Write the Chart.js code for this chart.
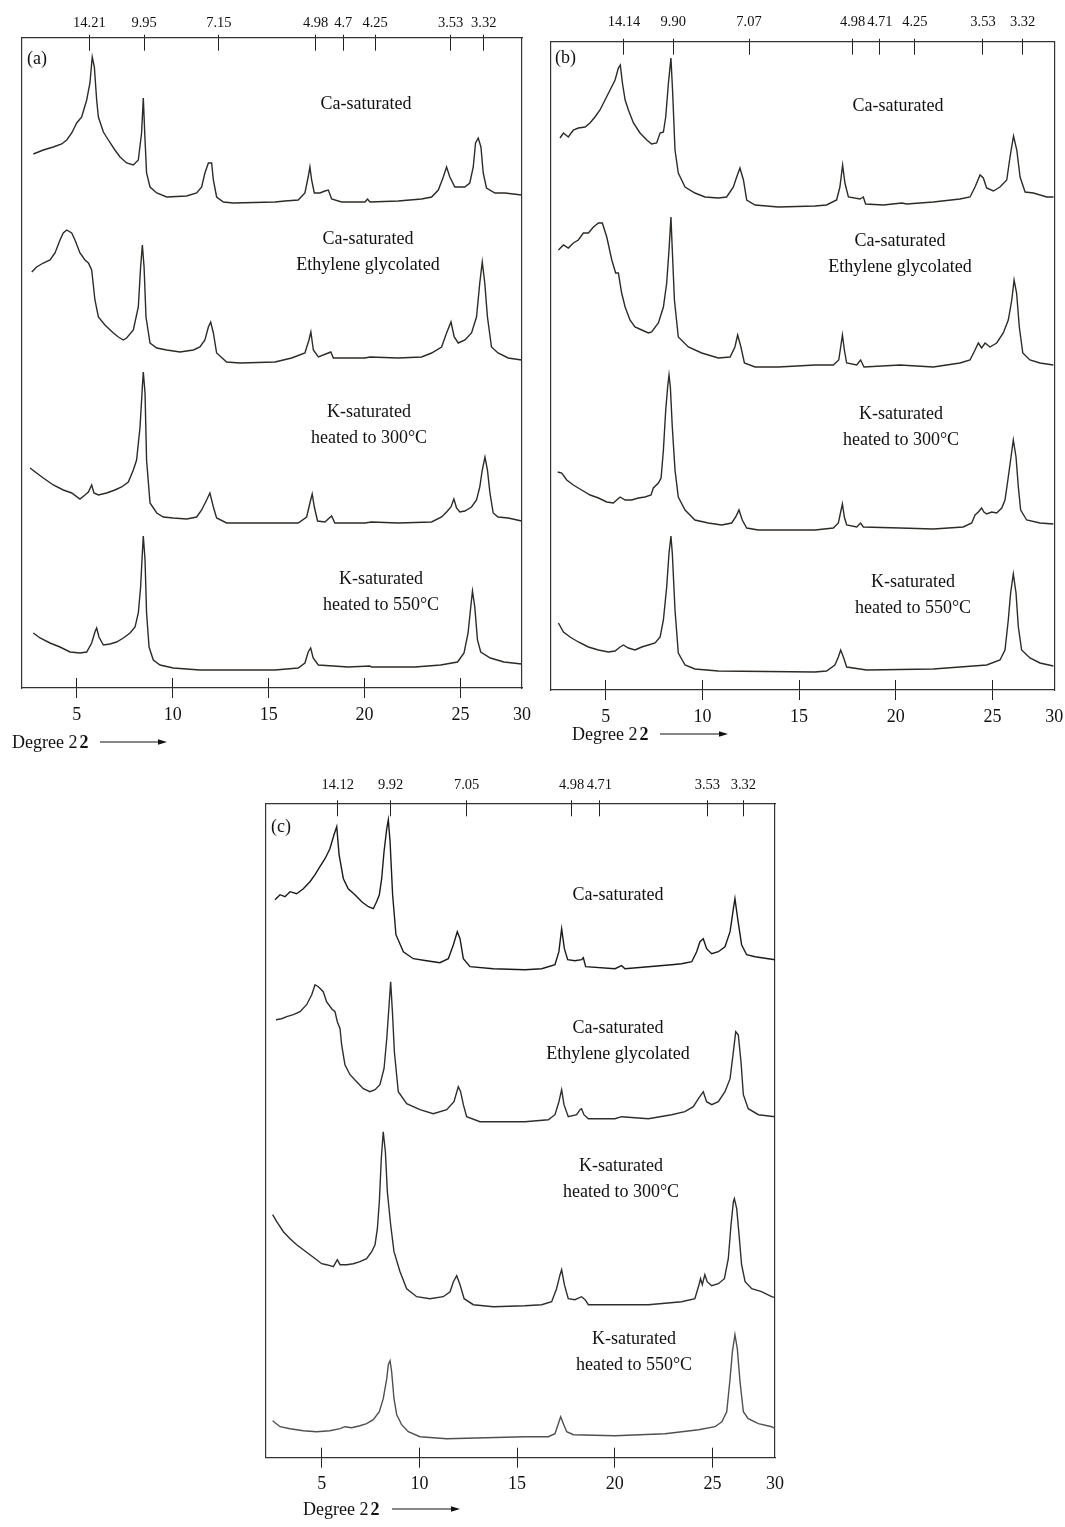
<!DOCTYPE html>
<html>
<head>
<meta charset="utf-8">
<script src="https://cdn.jsdelivr.net/npm/chart.js@4.4.1/dist/chart.umd.min.js"></script>
<style>
  body { margin: 0; background: #fff; }
  #page { position: relative; width: 1065px; height: 1527px; overflow: hidden; font-family: "Liberation Serif", "Times New Roman", serif; color: #111; }
  canvas { position: absolute; }
  .lbl { position: absolute; transform: translateX(-50%); text-align: center; white-space: nowrap; font-size: 18px; line-height: 26px; }
  .tag { position: absolute; font-size: 18px; line-height: 22px; }
  .deg { position: absolute; font-size: 18px; line-height: 22px; white-space: nowrap; }
  .deg b { margin-left: 2px; }
  svg { position: absolute; overflow: visible; }
</style>
</head>
<body>
<div id="page"></div>
<script>
// 2-theta axis (degrees); the printed "30" sits on the right-hand frame
const xMin = 2.15, xMax = 28.2;
const xTickPos = [5, 10, 15, 20, 25, 28.2];
const xTickLabels = ['5', '10', '15', '20', '25', '30'];

// d-spacings (angstrom) marked along the top of each panel
const dLabelsA = ['14.21', '9.95', '7.15', '4.98', '4.7', '4.25', '3.53', '3.32'];
const dPosA = [5.66, 8.51, 12.41, 17.45, 18.89, 20.55, 24.48, 26.21];
const dLabelsB = ['14.14', '9.90', '7.07', '4.98', '4.71', '4.25', '3.53', '3.32'];
const dPosB = [5.94, 8.49, 12.41, 17.77, 19.18, 20.99, 24.51, 26.56];
const dLabelsC = ['14.12', '9.92', '7.05', '4.98', '4.71', '3.53', '3.32'];
const dPosC = [5.82, 8.53, 12.42, 17.79, 19.21, 24.74, 26.58];

const traceNames = [
  ['Ca-saturated'],
  ['Ca-saturated', 'Ethylene glycolated'],
  ['K-saturated', 'heated to 300°C'],
  ['K-saturated', 'heated to 550°C']
];

// traces as [2theta, stacked intensity]
const aCa = [[2.74,534],[3.26,538],[3.78,541],[4.22,544],[4.48,548],[4.74,555],[5.00,565],[5.26,571],[5.52,588],[5.69,605],[5.81,631],[5.92,621],[6.04,588],[6.13,571],[6.39,556],[6.65,548],[6.99,538],[7.26,531],[7.60,525],[7.95,523],[8.21,528],[8.38,555],[8.47,590],[8.56,548],[8.64,515],[8.82,501],[9.17,495],[9.69,491],[10.73,492],[11.25,495],[11.51,501],[11.68,515],[11.86,525],[12.03,525],[12.12,508],[12.29,491],[12.64,486],[13.16,485],[15.33,486],[15.85,487],[16.54,488],[16.89,495],[17.06,511],[17.15,521],[17.24,508],[17.38,495],[17.67,495],[17.93,497],[18.11,498],[18.28,489],[18.80,486],[20.02,486],[20.15,489],[20.28,486],[21.75,487],[22.97,489],[23.49,491],[23.84,498],[24.10,511],[24.27,521],[24.44,511],[24.70,501],[25.22,501],[25.48,505],[25.66,521],[25.78,545],[25.92,550],[26.06,541],[26.18,515],[26.35,500],[26.79,495],[27.31,495],[28.18,493]];
const aCaEG = [[2.66,416],[2.91,421],[3.26,425],[3.61,428],[3.87,435],[4.13,448],[4.30,455],[4.48,458],[4.74,455],[4.91,448],[5.17,435],[5.43,428],[5.61,425],[5.78,418],[5.95,388],[6.13,371],[6.47,363],[6.91,355],[7.17,351],[7.43,348],[7.60,350],[7.95,358],[8.21,381],[8.33,421],[8.42,443],[8.51,421],[8.61,371],[8.82,345],[9.17,340],[9.69,338],[10.38,336],[11.08,338],[11.42,341],[11.68,348],[11.86,361],[11.98,366],[12.12,355],[12.29,335],[12.81,326],[13.51,325],[15.33,326],[16.20,330],[16.89,335],[17.10,348],[17.20,356],[17.33,338],[17.59,331],[18.11,335],[18.24,336],[18.37,330],[20.02,330],[20.28,331],[21.75,330],[22.97,331],[23.49,335],[24.01,341],[24.27,355],[24.50,366],[24.67,351],[24.88,345],[25.23,348],[25.57,355],[25.83,371],[26.00,405],[26.13,426],[26.26,405],[26.40,371],[26.61,341],[26.95,335],[27.48,330],[28.18,328]];
const aK300 = [[2.57,220],[2.91,215],[3.26,210],[3.78,203],[4.30,198],[4.74,195],[5.17,189],[5.43,193],[5.61,196],[5.78,203],[5.90,195],[6.13,193],[6.56,195],[6.99,198],[7.34,201],[7.69,206],[7.95,218],[8.12,228],[8.30,261],[8.42,301],[8.47,316],[8.56,295],[8.64,228],[8.82,185],[9.17,175],[9.51,171],[10.03,170],[10.73,169],[11.25,171],[11.51,178],[11.77,188],[11.94,195],[12.12,181],[12.29,170],[12.81,165],[13.51,165],[15.33,165],[16.54,165],[16.98,171],[17.15,185],[17.27,194],[17.38,181],[17.55,167],[17.93,166],[18.28,172],[18.45,165],[20.02,165],[20.36,166],[21.75,165],[23.49,166],[24.01,171],[24.27,176],[24.50,181],[24.65,189],[24.79,180],[24.96,176],[25.22,177],[25.57,181],[25.83,188],[26.00,201],[26.13,218],[26.27,231],[26.40,218],[26.53,195],[26.70,175],[26.95,171],[27.48,170],[28.18,167]];
const aK550 = [[2.74,55],[3.09,50],[3.61,45],[4.13,41],[4.65,36],[5.17,35],[5.52,36],[5.78,45],[5.95,56],[6.04,60],[6.16,51],[6.39,43],[6.73,44],[7.08,46],[7.43,50],[7.78,55],[8.04,61],[8.21,75],[8.33,101],[8.42,135],[8.47,152],[8.56,128],[8.64,75],[8.77,41],[8.99,28],[9.34,23],[10.03,20],[11.42,18],[15.33,18],[16.54,20],[16.89,25],[17.06,36],[17.19,40],[17.32,30],[17.59,23],[19.15,21],[20.28,22],[20.36,21],[22.62,21],[23.96,23],[24.84,26],[25.18,35],[25.39,55],[25.53,81],[25.62,97],[25.74,81],[25.88,48],[26.05,36],[26.55,30],[27.26,26],[28.18,24]];

const bCa = [[2.63,552],[2.81,557],[3.06,553],[3.32,560],[3.58,562],[3.93,563],[4.18,567],[4.44,573],[4.70,580],[4.96,590],[5.22,600],[5.48,610],[5.65,622],[5.75,625],[5.86,607],[6.00,590],[6.17,580],[6.43,567],[6.77,557],[7.12,550],[7.37,546],[7.63,547],[7.81,557],[7.98,558],[8.10,573],[8.24,607],[8.37,632],[8.46,597],[8.58,540],[8.75,517],[9.10,503],[9.61,497],[10.13,493],[10.82,492],[11.25,493],[11.60,503],[11.77,513],[11.94,522],[12.12,510],[12.29,490],[12.72,485],[13.93,483],[15.82,484],[16.42,485],[16.94,490],[17.11,503],[17.25,525],[17.37,507],[17.55,493],[18.15,491],[18.32,493],[18.44,486],[19.36,485],[20.31,487],[20.57,486],[21.94,488],[23.32,491],[23.84,493],[24.10,503],[24.36,515],[24.53,512],[24.70,502],[25.05,499],[25.39,503],[25.74,510],[25.91,533],[26.09,554],[26.26,540],[26.43,513],[26.69,498],[27.12,497],[27.81,493],[28.16,493]];
const bCaEG = [[2.55,440],[2.81,445],[3.06,442],[3.32,447],[3.58,450],[3.84,457],[4.10,457],[4.36,463],[4.62,467],[4.82,467],[5.05,453],[5.31,430],[5.51,417],[5.65,417],[5.82,397],[6.00,383],[6.25,370],[6.51,363],[6.86,360],[7.20,357],[7.37,358],[7.72,367],[7.98,383],[8.15,407],[8.27,440],[8.37,473],[8.44,440],[8.55,390],[8.75,353],[9.27,343],[9.96,337],[10.82,332],[11.43,333],[11.68,343],[11.82,355],[11.99,343],[12.17,327],[12.72,323],[13.93,323],[15.82,325],[16.77,325],[17.05,330],[17.15,343],[17.24,355],[17.34,340],[17.46,327],[17.98,325],[18.18,330],[18.36,323],[20.22,325],[21.94,323],[23.32,327],[23.84,330],[24.10,340],[24.27,347],[24.44,342],[24.62,347],[24.87,343],[25.22,347],[25.56,357],[25.82,370],[26.00,390],[26.12,410],[26.25,397],[26.39,363],[26.57,337],[26.94,330],[27.46,327],[28.15,325]];
const bK300 = [[2.51,218],[2.72,217],[2.98,210],[3.32,205],[3.75,200],[4.19,195],[4.62,192],[5.05,188],[5.39,187],[5.74,193],[6.00,190],[6.34,190],[6.68,192],[7.03,193],[7.34,195],[7.46,202],[7.72,207],[7.86,212],[7.98,240],[8.10,280],[8.20,303],[8.27,315],[8.34,303],[8.44,263],[8.58,220],[8.75,193],[9.10,180],[9.61,170],[10.30,167],[10.99,165],[11.51,167],[11.72,173],[11.89,180],[12.06,170],[12.29,162],[12.89,160],[15.82,160],[16.77,162],[17.03,167],[17.15,178],[17.24,186],[17.34,173],[17.46,165],[17.98,163],[18.18,167],[18.32,163],[20.22,162],[21.94,161],[23.49,163],[23.93,167],[24.10,175],[24.27,178],[24.44,182],[24.56,178],[24.70,176],[24.96,178],[25.22,177],[25.48,182],[25.65,190],[25.82,213],[25.94,230],[26.08,250],[26.22,233],[26.34,203],[26.46,180],[26.77,170],[27.46,167],[28.15,166]];
const bK550 = [[2.55,67],[2.81,58],[3.15,53],[3.58,48],[4.10,43],[4.62,40],[5.13,38],[5.48,39],[5.74,43],[5.91,45],[6.17,42],[6.51,40],[6.86,43],[7.20,45],[7.55,47],[7.81,53],[7.98,70],[8.15,103],[8.27,137],[8.37,154],[8.44,137],[8.58,80],[8.75,37],[9.10,25],[9.61,21],[10.82,19],[15.82,18],[16.42,19],[16.85,25],[17.03,33],[17.15,40],[17.29,33],[17.46,23],[18.49,20],[21.94,21],[24.70,25],[25.39,30],[25.65,40],[25.82,70],[25.94,97],[26.08,116],[26.22,97],[26.34,63],[26.51,40],[26.94,32],[27.46,27],[28.15,24]];

const cCa = [[2.61,558],[2.87,563],[3.12,561],[3.38,566],[3.72,564],[4.06,569],[4.40,576],[4.66,583],[4.91,591],[5.17,599],[5.42,609],[5.63,623],[5.77,631],[5.89,603],[6.11,579],[6.36,569],[6.70,563],[7.05,556],[7.39,551],[7.64,549],[7.81,556],[7.95,563],[8.07,579],[8.19,606],[8.33,629],[8.41,638],[8.50,616],[8.63,563],[8.80,523],[9.18,506],[9.69,499],[10.37,497],[11.05,495],[11.48,499],[11.74,513],[11.94,526],[12.08,519],[12.25,499],[12.59,491],[13.78,489],[15.40,488],[16.26,489],[16.94,493],[17.14,506],[17.28,529],[17.42,509],[17.59,498],[17.96,497],[18.30,498],[18.39,500],[18.51,491],[20.01,489],[20.35,492],[20.52,489],[21.72,491],[22.91,493],[23.42,494],[23.94,496],[24.19,506],[24.36,516],[24.53,519],[24.70,509],[24.96,504],[25.30,506],[25.64,511],[25.90,526],[26.07,549],[26.15,559],[26.29,539],[26.49,513],[26.75,503],[27.18,501],[27.86,499],[28.20,498]];
const cCaEG = [[2.66,438],[2.95,439],[3.21,441],[3.55,443],[3.89,446],[4.23,453],[4.49,463],[4.66,473],[4.83,471],[5.08,466],[5.25,456],[5.51,449],[5.68,446],[5.80,436],[5.94,429],[6.02,413],[6.19,393],[6.45,383],[6.79,376],[7.13,369],[7.47,366],[7.73,368],[7.98,373],[8.19,389],[8.33,419],[8.45,453],[8.53,476],[8.62,446],[8.72,406],[8.92,366],[9.35,354],[10.03,348],[10.71,344],[11.40,348],[11.77,356],[11.99,371],[12.11,366],[12.25,353],[12.42,341],[13.10,336],[15.40,336],[16.60,338],[16.94,343],[17.14,356],[17.28,368],[17.40,353],[17.62,341],[18.05,343],[18.22,348],[18.30,349],[18.42,343],[18.65,339],[20.01,339],[20.35,341],[21.72,339],[22.91,343],[23.59,346],[24.02,351],[24.28,359],[24.53,366],[24.70,356],[24.96,353],[25.30,356],[25.64,366],[25.90,379],[26.07,406],[26.19,426],[26.32,423],[26.46,396],[26.58,363],[26.83,349],[27.35,343],[28.20,341]];
const cK300 = [[2.49,243],[2.70,236],[3.04,226],[3.38,219],[3.72,213],[4.06,208],[4.40,203],[4.74,198],[5.00,194],[5.25,193],[5.60,191],[5.80,198],[5.94,193],[6.28,193],[6.62,194],[6.96,196],[7.30,199],[7.56,206],[7.73,213],[7.85,229],[7.95,256],[8.05,299],[8.15,326],[8.26,306],[8.36,266],[8.53,233],[8.70,206],[9.01,186],[9.35,169],[9.86,161],[10.54,159],[11.22,161],[11.57,166],[11.74,176],[11.91,182],[12.08,173],[12.29,159],[12.76,153],[13.78,151],[15.40,152],[16.26,153],[16.77,156],[17.02,169],[17.20,183],[17.28,188],[17.42,173],[17.62,159],[17.96,158],[18.30,161],[18.48,158],[18.65,153],[20.01,153],[21.72,153],[23.42,156],[24.10,159],[24.31,173],[24.39,179],[24.48,173],[24.61,183],[24.73,176],[24.96,172],[25.30,174],[25.61,179],[25.81,199],[25.95,233],[26.07,256],[26.12,259],[26.24,249],[26.36,223],[26.49,193],[26.67,176],[27.01,169],[27.51,166],[28.03,161],[28.20,160]];
const cK550 = [[2.49,37],[2.87,31],[3.38,29],[4.06,27],[4.74,26],[5.42,27],[5.94,29],[6.19,31],[6.53,30],[6.96,32],[7.30,34],[7.64,38],[7.95,46],[8.15,59],[8.33,79],[8.41,93],[8.50,97],[8.58,86],[8.70,59],[8.84,43],[8.97,38],[9.09,33],[9.43,26],[10.03,21],[11.40,19],[15.40,21],[16.60,21],[16.94,24],[17.11,34],[17.23,41],[17.37,34],[17.54,26],[17.88,23],[20.01,22],[22.57,24],[24.29,28],[25.13,31],[25.48,36],[25.73,46],[25.90,79],[26.02,106],[26.15,123],[26.27,109],[26.41,76],[26.58,46],[26.83,39],[27.35,34],[28.03,31],[28.20,29]];

const panels = [
  { tag: '(a)', traces: [aCa, aCaEG, aK300, aK550], dPos: dPosA, dLabels: dLabelsA,
    colors: ['#2e2a26', '#2e2a26', '#2e2a26', '#2e2a26'],
    box: { l: 22, t: 37.7, r: 522, b: 688 }, dPad: 2.4,
    labelAt: [[366, 103], [368, 238], [369, 411], [381, 578]],
    tagAt: [27, 47], degAt: [12, 742], arrow: [100, 167] },
  { tag: '(b)', traces: [bCa, bCaEG, bK300, bK550], dPos: dPosB, dLabels: dLabelsB,
    colors: ['#2e2a26', '#2e2a26', '#2e2a26', '#2e2a26'],
    box: { l: 550.7, t: 41.7, r: 1054.3, b: 690 }, dPad: 8,
    labelAt: [[898, 105], [900, 240], [901, 413], [913, 581]],
    tagAt: [555, 46], degAt: [572, 734], arrow: [660, 728] },
  { tag: '(c)', traces: [cCa, cCaEG, cK300, cK550], dPos: dPosC, dLabels: dLabelsC,
    colors: ['#1a1a1a', '#2e2e2e', '#2e2e2e', '#505050'],
    box: { l: 266, t: 803.3, r: 775, b: 1457.7 }, dPad: 6.3,
    labelAt: [[618, 894], [618, 1027], [621, 1165], [634, 1338]],
    tagAt: [271, 815], degAt: [303, 1509], arrow: [392, 460] }
];

const page = document.getElementById('page');

const setTicks = pos => s => { s.ticks = pos.map(v => ({ value: v })); };
const fixH = h => s => { s.height = h; };
const fixW = s => { s.width = 0; };
const TOP_H = 32, BOT_H = 45;

// no tick mark is printed where the "30" label sits on the frame
const tickColor = c => (c.tick && c.tick.value === 28.2) ? 'rgba(0,0,0,0)' : '#222';

function xAxis(position, weight, pos, labels, tickLen, pad, fontSize, borderOn, h) {
  return {
    type: 'linear', position: position, weight: weight, min: xMin, max: xMax,
    afterBuildTicks: setTicks(pos),
    afterFit: fixH(h),
    ticks: {
      display: !!labels, autoSkip: false, maxRotation: 0, minRotation: 0, padding: pad,
      color: '#111', font: { size: fontSize },
      callback: (v, i) => labels ? labels[i] : ''
    },
    grid: { drawOnChartArea: false, drawTicks: true, tickLength: tickLen, color: tickColor, lineWidth: 1 },
    border: { display: borderOn, color: '#333', width: 1.2 }
  };
}

function yAxis(position, max) {
  return {
    type: 'linear', position: position, min: 0, max: max, afterFit: fixW,
    ticks: { display: false },
    grid: { drawOnChartArea: false, drawTicks: false },
    border: { display: true, color: '#333', width: 1.2 }
  };
}

panels.forEach(p => {
  const cl = Math.floor(p.box.l) - 20, ct = Math.floor(p.box.t) - 42;
  const cw = Math.ceil(p.box.r) - cl + 20, ch = Math.ceil(p.box.b) - ct + 55;
  const cv = document.createElement('canvas');
  cv.width = cw; cv.height = ch;
  cv.style.left = cl + 'px'; cv.style.top = ct + 'px';
  cv.style.width = cw + 'px'; cv.style.height = ch + 'px';
  page.appendChild(cv);

  new Chart(cv, {
    type: 'line',
    data: {
      datasets: p.traces.map((t, i) => ({
        label: traceNames[i].join(' '),
        data: t.map(d => ({ x: d[0], y: d[1] })),
        borderColor: p.colors[i], borderWidth: 1.4,
        pointRadius: 0, tension: 0, fill: false,
        xAxisID: 'x', yAxisID: 'y'
      }))
    },
    options: {
      responsive: false, animation: false, devicePixelRatio: 1,
      font: { family: '"Liberation Serif", "Times New Roman", serif' },
      layout: { padding: {
        left: p.box.l - cl, right: cl + cw - p.box.r,
        top: p.box.t - ct - TOP_H, bottom: ct + ch - p.box.b - BOT_H
      } },
      plugins: { legend: { display: false }, tooltip: { enabled: false } },
      scales: {
        x: xAxis('bottom', 1, xTickPos, xTickLabels, 10, 6, 18, true, BOT_H),
        xb: xAxis('bottom', 0, xTickPos, null, -10, 0, 18, false, 0),
        xt: xAxis('top', 1, p.dPos, p.dLabels, 3, p.dPad, 14.5, true, TOP_H),
        xti: xAxis('top', 0, p.dPos, null, -13, 0, 14.5, false, 0),
        y: yAxis('left', p.box.b - p.box.t),
        y2: yAxis('right', 1)
      }
    }
  });

  p.labelAt.forEach((at, i) => {
    const d = document.createElement('div');
    d.className = 'lbl';
    d.style.left = at[0] + 'px';
    d.style.top = (at[1] - 13) + 'px';
    d.innerHTML = traceNames[i].join('<br>');
    page.appendChild(d);
  });

  const tg = document.createElement('div');
  tg.className = 'tag';
  tg.style.left = p.tagAt[0] + 'px';
  tg.style.top = p.tagAt[1] + 'px';
  tg.textContent = p.tag;
  page.appendChild(tg);

  const dg = document.createElement('div');
  dg.className = 'deg';
  dg.style.left = p.degAt[0] + 'px';
  dg.style.top = (p.degAt[1] - 11) + 'px';
  dg.innerHTML = 'Degree 2<b>2</b>';
  page.appendChild(dg);

  const w = p.arrow[1] - p.arrow[0];
  const ns = 'http://www.w3.org/2000/svg';
  const svg = document.createElementNS(ns, 'svg');
  svg.setAttribute('width', w);
  svg.setAttribute('height', 10);
  svg.style.left = p.arrow[0] + 'px';
  svg.style.top = (p.degAt[1] - 5) + 'px';
  svg.innerHTML = '<line x1="0" y1="5" x2="' + (w - 8) + '" y2="5" stroke="#111" stroke-width="1.2"/>' +
    '<polygon points="' + (w - 9) + ',2.2 ' + w + ',5 ' + (w - 9) + ',7.8" fill="#111"/>';
  page.appendChild(svg);
});
</script>
</body>
</html>
